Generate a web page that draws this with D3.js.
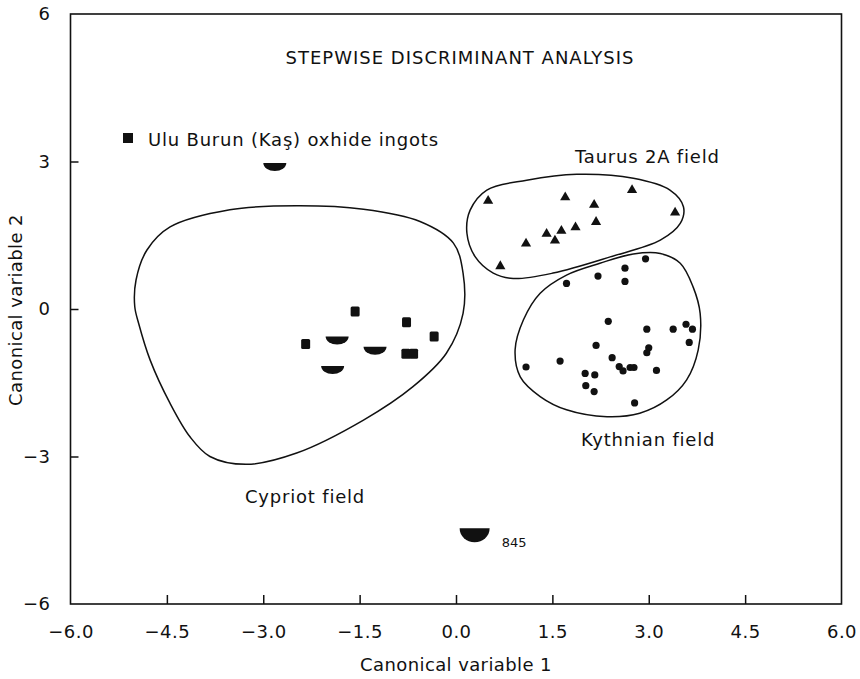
<!DOCTYPE html>
<html>
<head>
<meta charset="utf-8">
<script src="https://cdn.jsdelivr.net/npm/d3@7"></script>
<style>
  body { margin: 0; background: #fff; }
  text { font-family: "DejaVu Sans", sans-serif; fill: #111; }
</style>
</head>
<body>
<script>
// data (canonical variable 1, canonical variable 2)
let taurusPoints = [
  [0.50, 2.20], [1.70, 2.27], [2.74, 2.42], [2.15, 2.12], [3.41, 1.96], [2.18, 1.77],
  [1.86, 1.66], [1.64, 1.59], [1.41, 1.53], [1.54, 1.39], [1.09, 1.33], [0.69, 0.87]
];
let kythnianPoints = [
  [2.95, 1.02], [2.63, 0.83], [2.21, 0.67], [2.63, 0.56], [1.72, 0.52], [2.37, -0.25],
  [2.97, -0.41], [3.38, -0.41], [3.58, -0.31], [3.68, -0.41], [3.63, -0.68], [2.18, -0.74],
  [3.00, -0.79], [2.97, -0.89], [2.43, -0.99], [1.62, -1.06], [1.09, -1.18], [2.54, -1.17],
  [2.60, -1.26], [2.71, -1.19], [2.77, -1.19], [3.12, -1.25], [2.01, -1.31], [2.16, -1.34],
  [2.02, -1.56], [2.15, -1.68], [2.78, -1.91]
];
let uluBurunIngots = [
  [-1.57, -0.05], [-0.77, -0.27], [-0.34, -0.56], [-2.34, -0.71], [-0.78, -0.91], [-0.66, -0.91]
];
let halfIngots = [
  [-2.82, 2.97], [-1.85, -0.56], [-1.26, -0.77], [-1.92, -1.16]
];
let sample845 = [[0.29, -4.46]];

// field outlines
let cypriotField = [
  [-2.48, 2.10], [-1.44, 2.03], [-0.56, 1.78], [-0.04, 1.34], [0.11, 0.73], [0.11, -0.09],
  [-0.15, -0.90], [-0.67, -1.58], [-1.44, -2.26], [-2.48, -2.93], [-3.26, -3.16], [-3.83, -3.00],
  [-4.14, -2.60], [-4.45, -1.92], [-4.76, -1.04], [-4.94, -0.29], [-5.00, 0.05], [-4.98, 0.59],
  [-4.81, 1.20], [-4.45, 1.67], [-3.52, 2.02]
];
let taurusField = [
  [1.88, 2.74], [2.76, 2.66], [3.33, 2.42], [3.54, 2.08], [3.49, 1.74], [3.18, 1.40],
  [2.40, 1.06], [1.51, 0.73], [0.89, 0.62], [0.58, 0.73], [0.30, 1.06], [0.17, 1.54],
  [0.22, 2.01], [0.48, 2.42], [1.10, 2.62]
];
let kythnianField = [
  [3.18, 1.13], [3.49, 0.93], [3.69, 0.45], [3.80, -0.09], [3.77, -0.83], [3.59, -1.44],
  [3.28, -1.85], [2.86, -2.12], [2.35, -2.19], [1.72, -2.05], [1.31, -1.78], [1.00, -1.38],
  [0.92, -0.83], [1.05, -0.22], [1.31, 0.32], [1.72, 0.69], [2.24, 0.93], [2.76, 1.12]
];

let xTicks = [-6.0, -4.5, -3.0, -1.5, 0, 1.5, 3.0, 4.5, 6.0];
let yTicks = [-6, -3, 0, 3, 6];

let width = 860;
let height = 679;
let svg = d3.select('body').append('svg')
  .attr('width', width)
  .attr('height', height);

let x = d3.scaleLinear().domain([-6, 6]).range([70.5, 841.5]);
let y = d3.scaleLinear().domain([-6, 6]).range([604, 14]);

let fmtMinus = (s) => s.replace('-', '\u2212');

// frame
svg.append('rect')
  .attr('x', x(-6)).attr('y', y(6))
  .attr('width', x(6) - x(-6)).attr('height', y(-6) - y(6))
  .attr('fill', 'none').attr('stroke', '#111').attr('stroke-width', 1.6);

// inward ticks
let xAxis = d3.axisBottom(x).tickValues(xTicks).tickSize(-9).tickPadding(21)
  .tickFormat((d) => fmtMinus(d3.format('.1f')(d)));
let gx = svg.append('g').attr('transform', `translate(0,${y(-6)})`).call(xAxis);
let yAxis = d3.axisLeft(y).tickValues(yTicks).tickSize(-8).tickPadding(20)
  .tickFormat((d) => fmtMinus(String(d)));
let gy = svg.append('g').attr('transform', `translate(${x(-6)},0)`).call(yAxis);
[gx, gy].forEach((g) => {
  g.select('.domain').remove();
  g.selectAll('.tick line')
    .attr('stroke', '#111').attr('stroke-width', 1.5)
    .filter((d) => Math.abs(d) === 6).remove();
  g.selectAll('.tick text').style('font-size', '18px').style('letter-spacing', '0.5px').attr('fill', '#111');
});

// field outlines
let outline = d3.line().x((d) => x(d[0])).y((d) => y(d[1])).curve(d3.curveCatmullRomClosed.alpha(0.5));
[cypriotField, taurusField, kythnianField].forEach((f) => {
  svg.append('path').attr('d', outline(f))
    .attr('fill', 'none').attr('stroke', '#111').attr('stroke-width', 1.5);
});

// markers
svg.append('g').selectAll('path')
  .data(taurusPoints).enter().append('path')
  .attr('d', d3.symbol(d3.symbolTriangle, 45))
  .attr('transform', (d) => `translate(${x(d[0])},${y(d[1])})`)
  .attr('fill', '#111');

svg.append('g').selectAll('circle')
  .data(kythnianPoints).enter().append('circle')
  .attr('cx', (d) => x(d[0])).attr('cy', (d) => y(d[1])).attr('r', 3.6)
  .attr('fill', '#111');

svg.append('g').selectAll('rect')
  .data(uluBurunIngots).enter().append('rect')
  .attr('x', (d) => x(d[0]) - 4.5).attr('y', (d) => y(d[1]) - 5)
  .attr('width', 9).attr('height', 10).attr('rx', 1.5)
  .attr('fill', '#111');

let halfDisk = (rx, ry) => `M${-rx},0A${rx},${ry} 0 0 0 ${rx},0Z`;
svg.append('g').selectAll('path')
  .data(halfIngots).enter().append('path')
  .attr('d', halfDisk(11.5, 8))
  .attr('transform', (d) => `translate(${x(d[0])},${y(d[1])})`)
  .attr('fill', '#111');

svg.append('g').selectAll('path')
  .data(sample845).enter().append('path')
  .attr('d', halfDisk(15, 14))
  .attr('transform', (d) => `translate(${x(d[0])},${y(d[1])})`)
  .attr('fill', '#111');
svg.append('text')
  .attr('x', x(sample845[0][0]) + 27).attr('y', y(sample845[0][1]) + 19)
  .style('font-size', '13px').text('845');

// legend
svg.append('rect').attr('x', 123).attr('y', 133).attr('width', 10).attr('height', 10).attr('fill', '#111');
let label = (tx, ty, s, ls) => svg.append('text').attr('x', tx).attr('y', ty)
  .style('font-size', '18px').style('letter-spacing', (ls || 0.8) + 'px').text(s);
label(148, 146, 'Ulu Burun (Kaş) oxhide ingots');

// annotations
label(460, 64, 'STEPWISE DISCRIMINANT ANALYSIS', 1).attr('text-anchor', 'middle');
label(575, 163, 'Taurus 2A field');
label(581, 446, 'Kythnian field');
label(245, 503, 'Cypriot field');

// axis titles
label(456, 671, 'Canonical variable 1', 0.4).attr('text-anchor', 'middle');
label(0, 0, 'Canonical variable 2', 0.4).attr('text-anchor', 'middle')
  .attr('transform', 'translate(22,310) rotate(-90)');
</script>
</body>
</html>
